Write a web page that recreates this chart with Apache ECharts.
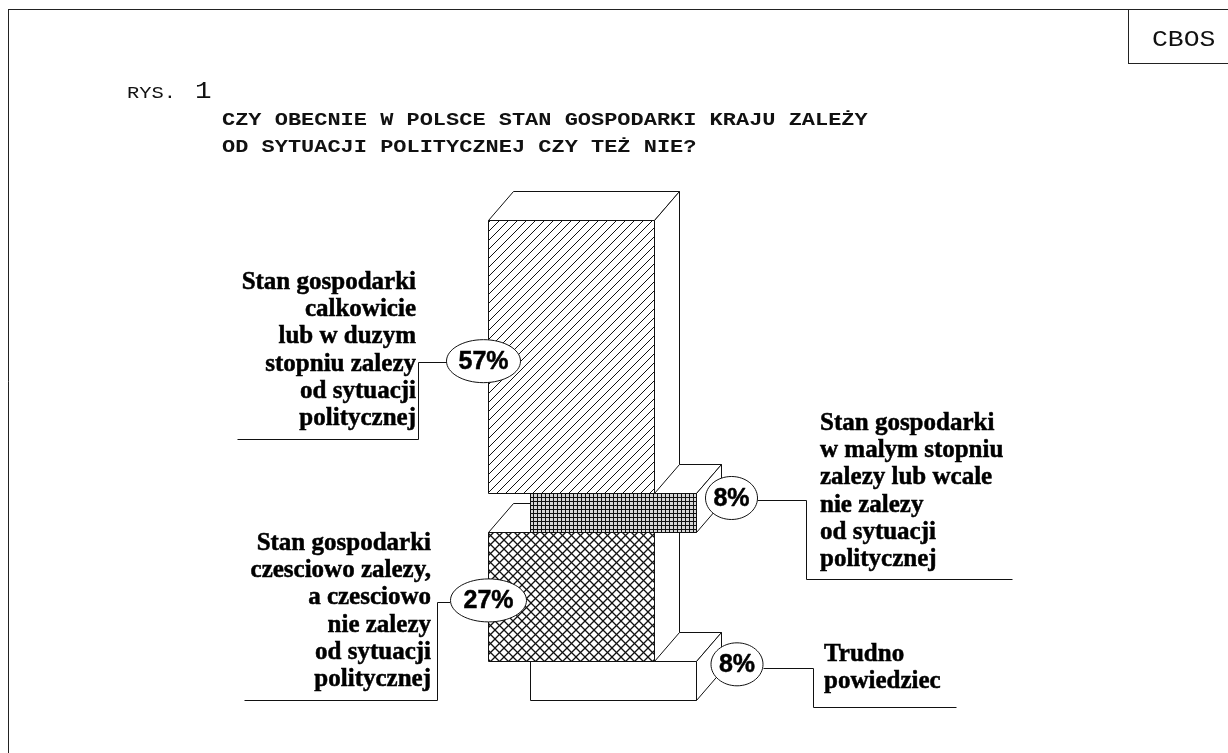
<!DOCTYPE html>
<html>
<head>
<meta charset="utf-8">
<style>
  html, body { margin: 0; padding: 0; background: #fff; }
  #chart { width: 1228px; height: 753px; }
</style>
<script src="https://cdn.jsdelivr.net/npm/echarts@6/dist/echarts.min.js"></script>
</head>
<body>
<div id="chart"></div>
<script>
// top of the column first
const categories = ['Calkowicie lub w duzym stopniu', 'W malym stopniu lub wcale', 'Czesciowo', 'Trudno powiedziec'];
const values = [57, 8, 27, 8];
const percentLabels = ['57%', '8%', '27%', '8%'];
const labelLines = [
    ['Stan gospodarki', 'calkowicie', 'lub w duzym', 'stopniu zalezy', 'od sytuacji', 'politycznej'],
    ['Stan gospodarki', 'w malym stopniu', 'zalezy lub wcale', 'nie zalezy', 'od sytuacji', 'politycznej'],
    ['Stan gospodarki', 'czesciowo zalezy,', 'a czesciowo', 'nie zalezy', 'od sytuacji', 'politycznej'],
    ['Trudno', 'powiedziec']
];
const titleLines = ['CZY OBECNIE W POLSCE STAN GOSPODARKI KRAJU ZALEŻY', 'OD SYTUACJI POLITYCZNEJ CZY TEŻ NIE?'];

const INK = '#111';
const MONO = '"Liberation Mono", monospace';
const SERIF = '"Liberation Serif", serif';
const SANS = '"Liberation Sans", sans-serif';
const DEPTH_X = 25, DEPTH_Y = 29, SHIFT = 42;

// where the label block of each segment sits: anchor x, first baseline, text align
const labelPos = [
    { x: 416, y: 290, align: 'right' },
    { x: 820, y: 431, align: 'left' },
    { x: 431, y: 551, align: 'right' },
    { x: 824, y: 662, align: 'left' }
];
// ellipse centre relative to the segment (left edge of column, middle of segment)
const calloutPos = [
    { dx: -5, dy: 4, rx: 37, leader: [[-36, 1], [-65, 1], [-65, 78], [-246, 78]] },
    { dx: 243, dy: -15, rx: 26, leader: [[26, 3], [75, 3], [75, 82], [281, 82]] },
    { dx: 0, dy: 3.5, rx: 38, leader: [[-38, 2], [-51, 2], [-51, 100], [-244, 100]] },
    { dx: 248.5, dy: -16.5, rx: 26, leader: [[26, 4], [76, 4], [76, 43], [219, 43]] }
];

function makeTile(size, bg, width, draw) {
    const c = document.createElement('canvas');
    c.width = size; c.height = size;
    const ctx = c.getContext('2d');
    ctx.fillStyle = bg;
    ctx.fillRect(0, 0, size, size);
    ctx.strokeStyle = '#111';
    ctx.lineWidth = width;
    draw(ctx, size);
    return { image: c, repeat: 'repeat' };
}
function diagUp(ctx, s) {
    ctx.beginPath();
    for (let k = -1; k <= 1; k++) {
        ctx.moveTo(k * s, s);
        ctx.lineTo(k * s + s, 0);
    }
    ctx.stroke();
}
function diagDown(ctx, s) {
    ctx.beginPath();
    for (let k = -1; k <= 1; k++) {
        ctx.moveTo(k * s, 0);
        ctx.lineTo(k * s + s, s);
    }
    ctx.stroke();
}
const patterns = [
    makeTile(9, '#fff', 1, diagUp),
    makeTile(4, '#d8d8d8', 1, (ctx, s) => {
        ctx.beginPath();
        ctx.moveTo(1.5, 0); ctx.lineTo(1.5, s);
        ctx.moveTo(0, 1.5); ctx.lineTo(s, 1.5);
        ctx.stroke();
    }),
    makeTile(9, '#fff', 1.3, (ctx, s) => { diagUp(ctx, s); diagDown(ctx, s); }),
    '#fff'
];

// stack the values from the bottom of the column
const lows = values.map((_, i) => values.slice(i + 1).reduce((a, b) => a + b, 0));
const barData = values.map((v, i) => [i, lows[i], lows[i] + v]);
const snap = v => Math.round(v - 0.5) + 0.5;

function renderSegment(params, api) {
    const i = api.value(0);
    const lo = api.coord([0, api.value(1)]);
    const hi = api.coord([1, api.value(2)]);
    const shift = i % 2 === 1 ? SHIFT : 0;
    const x0 = snap(lo[0]) + shift, x1 = snap(hi[0]) + shift;
    const yTop = snap(hi[1]), yBot = snap(lo[1]);
    const line = { fill: '#fff', stroke: INK, lineWidth: 1 };
    return {
        type: 'group',
        children: [
            { type: 'polygon', shape: { points: [[x0, yTop], [x0 + DEPTH_X, yTop - DEPTH_Y], [x1 + DEPTH_X, yTop - DEPTH_Y], [x1, yTop]] }, style: line },
            { type: 'polygon', shape: { points: [[x1, yTop], [x1 + DEPTH_X, yTop - DEPTH_Y], [x1 + DEPTH_X, yBot - DEPTH_Y], [x1, yBot]] }, style: line },
            { type: 'rect', shape: { x: x0, y: yTop, width: x1 - x0, height: yBot - yTop }, style: { fill: patterns[i], stroke: INK, lineWidth: 1 } }
        ]
    };
}

function renderCallout(params, api) {
    const i = api.value(0);
    const p = calloutPos[i];
    const mid = api.coord([0, (api.value(1) + api.value(2)) / 2]);
    const cx = mid[0] + p.dx, cy = mid[1] + p.dy;
    const pts = p.leader.map(q => [snap(cx + q[0]), snap(cy + q[1])]);
    return {
        type: 'group',
        children: [
            { type: 'polyline', shape: { points: pts }, style: { fill: 'none', stroke: INK, lineWidth: 1 } },
            { type: 'ellipse', shape: { cx: cx, cy: cy, rx: p.rx, ry: 21.5 }, style: { fill: '#fff', stroke: INK, lineWidth: 1 } },
            {
                type: 'text', x: cx, y: cy + 1,
                style: { text: percentLabels[i], fontFamily: SANS, fontWeight: 'bold', fontSize: 25, fill: '#000', stroke: '#000', lineWidth: 0.5, align: 'center', verticalAlign: 'middle' }
            }
        ]
    };
}

// y here is the baseline, text boxes are placed from their top
function textEl(text, x, y, font, extra) {
    return Object.assign({
        type: 'text', x: x, y: y - Math.round(font.fontSize * 0.78), z: 10, silent: true,
        style: Object.assign({ text: text, fill: '#111', verticalAlign: 'top' }, font)
    }, extra || {});
}

const lineEl = (x1, y1, x2, y2) => ({
    type: 'line', z: 10, silent: true,
    shape: { x1: x1, y1: y1, x2: x2, y2: y2 },
    style: { stroke: '#222', lineWidth: 1 }
});

const graphics = [
    lineEl(8.5, 9.5, 8.5, 753),
    lineEl(8, 9.5, 1228, 9.5),
    lineEl(1128.5, 9, 1128.5, 63.5),
    lineEl(1128, 63.5, 1228, 63.5),
    textEl('CBOS', 1152, 46, { fontFamily: MONO, fontSize: 22 }, { scaleX: 1.2 }),
    textEl('RYS.', 127, 98, { fontFamily: MONO, fontSize: 17 }, { scaleX: 1.2 }),
    textEl('1', 195, 98, { fontFamily: MONO, fontSize: 23 }, { scaleX: 1.2 })
];
titleLines.forEach((t, i) => {
    graphics.push(textEl(t, 222, 125 + i * 27, { fontFamily: MONO, fontWeight: 'bold', fontSize: 18 }, { scaleX: 1.22 }));
});
labelLines.forEach((lines, i) => {
    const p = labelPos[i];
    lines.forEach((t, k) => {
        graphics.push(textEl(t, p.x, p.y + k * 27.2, {
            fontFamily: SERIF, fontWeight: 'bold', fontSize: 25, fill: '#000', align: p.align,
            stroke: '#000', lineWidth: 0.5
        }));
    });
});

const chart = echarts.init(document.getElementById('chart'));
chart.setOption({
    animation: false,
    backgroundColor: '#fff',
    grid: { left: 488.5, top: 220.5, width: 166, height: 479.5 },
    xAxis: { type: 'value', min: 0, max: 1, show: false },
    yAxis: { type: 'value', min: 0, max: 100, show: false },
    graphic: graphics,
    series: [
        {
            name: 'segmenty',
            type: 'custom',
            coordinateSystem: 'cartesian2d',
            renderItem: renderSegment,
            encode: { y: [1, 2] },
            // drawn bottom segment first so the upper ones overlap correctly
            data: barData.slice().reverse(),
            z: 2
        },
        {
            name: 'opisy',
            type: 'custom',
            coordinateSystem: 'cartesian2d',
            renderItem: renderCallout,
            encode: { y: [1, 2] },
            data: barData,
            z: 3
        }
    ]
});
</script>
</body>
</html>
